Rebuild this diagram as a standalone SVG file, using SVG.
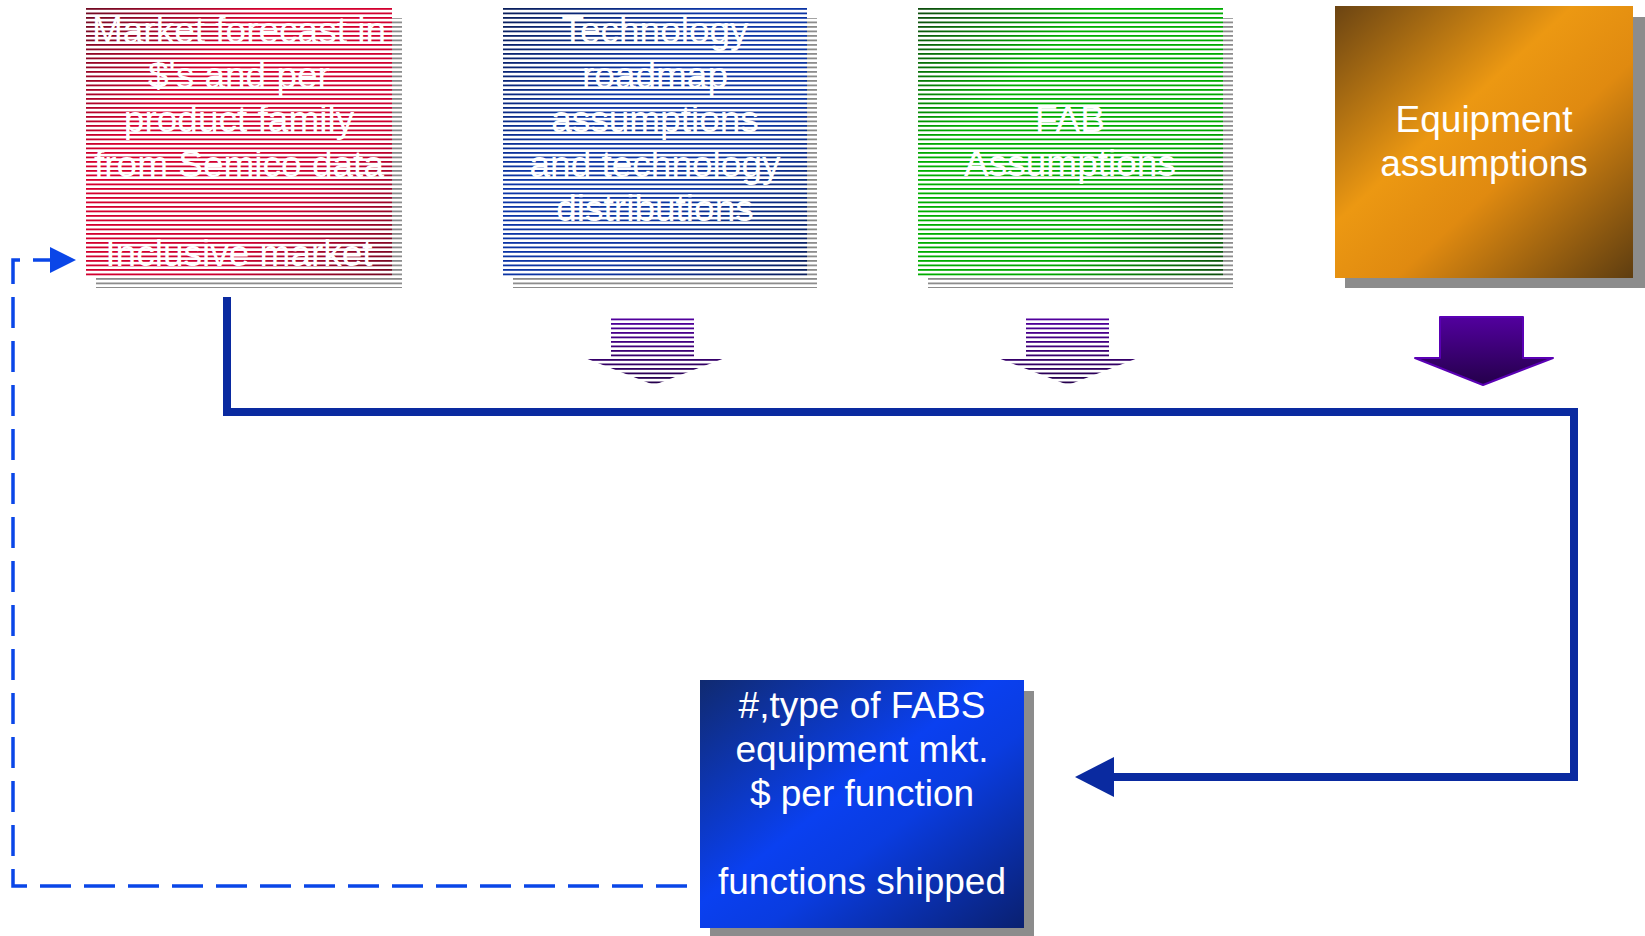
<svg xmlns="http://www.w3.org/2000/svg" width="1645" height="936" viewBox="0 0 1645 936">
<style>
.t{font-family:"Liberation Sans",Arial,sans-serif;font-size:37px;fill:#fff;text-anchor:middle}
.sh{fill:#8c8c8c}
</style>
<defs>
<pattern id="stp" patternUnits="userSpaceOnUse" x="0" y="8" width="20" height="9">
<rect y="0" width="20" height="1.8" fill="#fff"/>
<rect y="4.5" width="20" height="1.8" fill="#fff"/>
</pattern>
<mask id="sm" maskUnits="userSpaceOnUse" x="0" y="0" width="1645" height="936">
<rect width="1645" height="936" fill="url(#stp)"/>
</mask>
<linearGradient id="gRed" x1="0" y1="0" x2="1" y2="1">
<stop offset="0" stop-color="#6e0a22"/><stop offset="0.3" stop-color="#d8002e"/><stop offset="0.7" stop-color="#cc0030"/><stop offset="1" stop-color="#6e0a22"/>
</linearGradient>
<linearGradient id="gBlu" x1="0" y1="0" x2="1" y2="1">
<stop offset="0" stop-color="#0a1e5a"/><stop offset="0.35" stop-color="#0c36a8"/><stop offset="0.65" stop-color="#0c34a0"/><stop offset="1" stop-color="#0a1e5a"/>
</linearGradient>
<linearGradient id="gGrn" x1="0" y1="0" x2="1" y2="1">
<stop offset="0" stop-color="#0e4a0e"/><stop offset="0.3" stop-color="#00b000"/><stop offset="0.7" stop-color="#00a800"/><stop offset="1" stop-color="#0e4a0e"/>
</linearGradient>
<linearGradient id="gOra" x1="0" y1="0" x2="1" y2="1">
<stop offset="0" stop-color="#6b4412"/><stop offset="0.4" stop-color="#ec9812"/><stop offset="0.6" stop-color="#e08a10"/><stop offset="1" stop-color="#5e3d10"/>
</linearGradient>
<linearGradient id="gBot" x1="0" y1="0" x2="1" y2="1">
<stop offset="0" stop-color="#102a70"/><stop offset="0.45" stop-color="#0a40f0"/><stop offset="0.6" stop-color="#0a3ce0"/><stop offset="1" stop-color="#0a2070"/>
</linearGradient>
<linearGradient id="gPur" x1="0" y1="0" x2="0" y2="1">
<stop offset="0" stop-color="#52009e"/><stop offset="1" stop-color="#24004a"/>
</linearGradient>
</defs>
<rect width="1645" height="936" fill="#fff"/>

<g id="market">
<g mask="url(#sm)">
<rect class="sh" x="96" y="18" width="306" height="270"/>
<rect x="86" y="8" width="306" height="270" fill="url(#gRed)"/>
</g>
<text class="t" x="239" y="43">Market forecast in</text>
<text class="t" x="239" y="87.5">$'s and per</text>
<text class="t" x="239" y="132">product family</text>
<text class="t" x="239" y="176.5">from Semico data</text>
<text class="t" x="239" y="265.5">Inclusive market</text>
</g>

<g id="technology">
<g mask="url(#sm)">
<rect class="sh" x="513" y="18" width="304" height="270"/>
<rect x="503" y="8" width="304" height="270" fill="url(#gBlu)"/>
</g>
<text class="t" x="655" y="43">Technology</text>
<text class="t" x="655" y="87.5">roadmap</text>
<text class="t" x="655" y="132">assumptions</text>
<text class="t" x="655" y="176.5">and technology</text>
<text class="t" x="655" y="221">distributions</text>
</g>

<g id="fab">
<g mask="url(#sm)">
<rect class="sh" x="928" y="18" width="305" height="270"/>
<rect x="918" y="8" width="305" height="270" fill="url(#gGrn)"/>
</g>
<text class="t" x="1070" y="132">FAB</text>
<text class="t" x="1070" y="176">Assumptions</text>
</g>

<g id="equipment">
<rect class="sh" x="1345" y="17" width="300" height="271"/>
<rect x="1335" y="6" width="298" height="272" fill="url(#gOra)"/>
<text class="t" x="1484" y="132">Equipment</text>
<text class="t" x="1484" y="176">assumptions</text>
</g>

<g id="arrows">
<g mask="url(#sm)">
<polygon points="611,318 694,318 694,358 725,358 654,385 585,358 611,358" fill="url(#gPur)"/>
<polygon points="1026,318 1109,318 1109,358 1138,358 1068,385 998,358 1026,358" fill="url(#gPur)"/>
</g>
<polygon points="1440,317 1523,317 1523,358 1553,358 1483,385 1415,358 1440,358" fill="url(#gPur)" stroke="#5a00b4" stroke-width="2" stroke-linejoin="round"/>
</g>

<g id="fabs">
<rect class="sh" x="710" y="691" width="324" height="245"/>
<rect x="700" y="680" width="324" height="248" fill="url(#gBot)"/>
<text class="t" x="862" y="718">#,type of FABS</text>
<text class="t" x="862" y="762">equipment mkt.</text>
<text class="t" x="862" y="806">$ per function</text>
<text class="t" x="862" y="894">functions shipped</text>
</g>

<g id="connectors">
<path d="M227 297 V412 H1574 V777 H1110" fill="none" stroke="#0a2aa0" stroke-width="8"/>
<polygon points="1075,777 1114,757 1114,797" fill="#0a2aa0"/>
<path d="M687 886 H13 V260 H52" fill="none" stroke="#0a46e8" stroke-width="3.5" stroke-dasharray="31 13"/>
<polygon points="50,247 76,260 50,273" fill="#0a46e8"/>
</g>
</svg>
